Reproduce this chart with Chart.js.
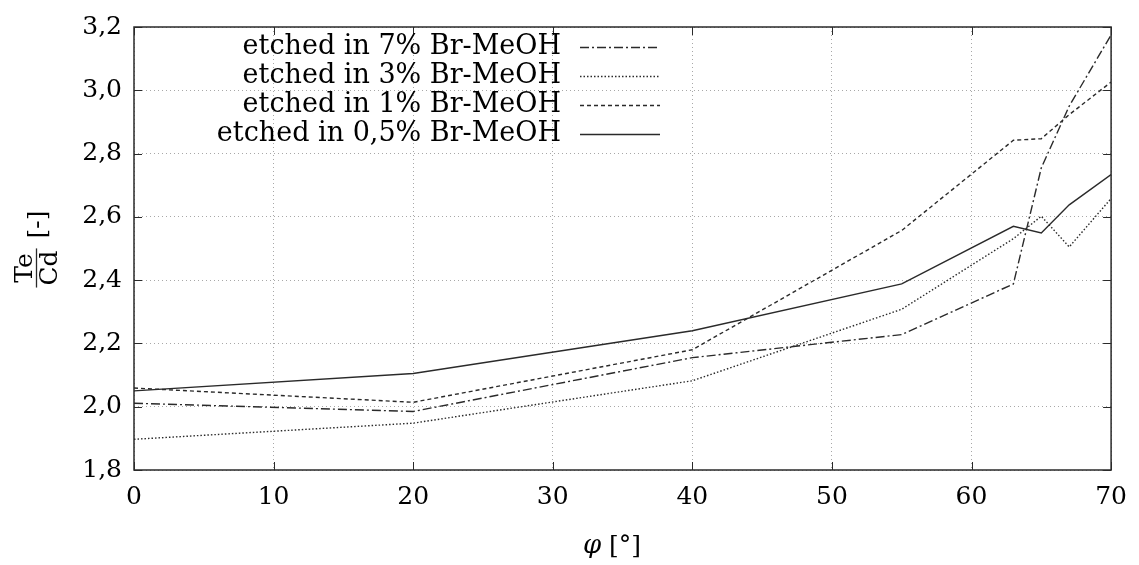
<!DOCTYPE html>
<html>
<head>
  <meta charset="utf-8">
  <title>Te/Cd ratio vs angle</title>
  <style>
    body { margin: 0; background: #ffffff; }
    #wrap { width: 1139px; height: 565px; }
  </style>
  <script src="https://cdn.jsdelivr.net/npm/chart.js@4/dist/chart.umd.min.js"></script>
</head>
<body>
  <div id="wrap"><canvas id="graph" width="1139" height="565"></canvas></div>
  <script>
    // angles (phi, degrees) and Te/Cd ratios
    const angles = [0, 20, 40, 55, 63, 65, 67, 70];
    const br7  = [2.011, 1.985, 2.155, 2.228, 2.388, 2.755, 2.95, 3.175];
    const br3  = [1.897, 1.948, 2.082, 2.308, 2.531, 2.602, 2.505, 2.658];
    const br1  = [2.059, 2.014, 2.180, 2.557, 2.842, 2.847, 2.923, 3.026];
    const br05 = [2.050, 2.105, 2.240, 2.388, 2.570, 2.549, 2.638, 2.734];
    const seriesNames = ['etched in 7% Br-MeOH', 'etched in 3% Br-MeOH', 'etched in 1% Br-MeOH', 'etched in 0,5% Br-MeOH'];
    const xTicks = [0, 10, 20, 30, 40, 50, 60, 70];
    const yTicks = [1.8, 2.0, 2.2, 2.4, 2.6, 2.8, 3.0, 3.2];

    const FONT = "'DejaVu Serif', 'Liberation Serif', serif";
    const FS = 25;
    const INK = '#2a2a2a';
    const dashes = [[9, 3, 2, 3], [1.5, 2], [4, 3], []];

    function pts(ys) {
      return angles.map(function (a, i) { return { x: a, y: ys[i] }; });
    }

    const allSeries = [br7, br3, br1, br05];
    const datasets = allSeries.map(function (ys, i) {
      return {
        label: seriesNames[i],
        data: pts(ys),
        borderColor: INK,
        borderWidth: 1.4,
        borderDash: dashes[i],
        pointRadius: 0,
        tension: 0,
        fill: false
      };
    });

    // frame, inward ticks, legend and axis titles (gnuplot look)
    const decor = {
      id: 'decor',
      afterDatasetsDraw(chart) {
        const ctx = chart.ctx;
        const a = chart.chartArea;
        const xs = chart.scales.x, ys = chart.scales.y;
        ctx.save();
        ctx.strokeStyle = INK;
        ctx.lineWidth = 1.5;
        ctx.setLineDash([]);
        ctx.strokeRect(a.left, a.top, a.right - a.left, a.bottom - a.top);
        ctx.lineWidth = 1;
        const tl = 8;
        ctx.beginPath();
        xTicks.forEach(function (v) {
          const px = Math.round(xs.getPixelForValue(v)) + 0.5;
          ctx.moveTo(px, a.bottom); ctx.lineTo(px, a.bottom - tl);
          ctx.moveTo(px, a.top); ctx.lineTo(px, a.top + tl);
        });
        yTicks.forEach(function (v) {
          const py = Math.round(ys.getPixelForValue(v)) + 0.5;
          ctx.moveTo(a.left, py); ctx.lineTo(a.left + tl, py);
          ctx.moveTo(a.right, py); ctx.lineTo(a.right - tl, py);
        });
        ctx.stroke();

        // legend: right aligned text, line sample on the right
        ctx.font = (FS + 2) + 'px ' + FONT;
        ctx.fillStyle = '#000';
        ctx.textAlign = 'right';
        ctx.textBaseline = 'middle';
        seriesNames.forEach(function (name, i) {
          const y = 47 + i * 29;
          ctx.fillText(name, 561, y);
          ctx.setLineDash(dashes[i]);
          ctx.lineWidth = 1.4;
          ctx.beginPath();
          ctx.moveTo(580, y + 0.5); ctx.lineTo(660, y + 0.5);
          ctx.stroke();
        });
        ctx.setLineDash([]);

        // x title: phi [deg]
        ctx.textAlign = 'left';
        ctx.textBaseline = 'alphabetic';
        ctx.font = 'italic ' + (FS + 1) + 'px ' + FONT;
        const phiW = ctx.measureText('φ').width;
        ctx.font = FS + 'px ' + FONT;
        const restW = ctx.measureText(' [°]').width;
        const x0 = 612 - (phiW + restW) / 2;
        ctx.font = 'italic ' + (FS + 1) + 'px ' + FONT;
        ctx.fillText('φ', x0, 553);
        ctx.font = FS + 'px ' + FONT;
        ctx.fillText(' [°]', x0 + phiW, 553);

        // y title: Te/Cd fraction then [-], rotated
        ctx.translate(35, 249);
        ctx.rotate(-Math.PI / 2);
        ctx.font = FS + 'px ' + FONT;
        const wNum = ctx.measureText('Te').width;
        const wDen = ctx.measureText('Cd').width;
        const wf = Math.max(wNum, wDen) + 4;
        const wb = ctx.measureText('[-]').width;
        const gap = 10;
        const total = wf + gap + wb;
        const u0 = -total / 2;
        ctx.textAlign = 'center';
        ctx.fillText('Te', u0 + wf / 2, -3);
        ctx.fillText('Cd', u0 + wf / 2, 22);
        ctx.lineWidth = 1.3;
        ctx.beginPath();
        ctx.moveTo(u0, 1.5); ctx.lineTo(u0 + wf, 1.5);
        ctx.stroke();
        ctx.textAlign = 'left';
        ctx.textBaseline = 'middle';
        ctx.fillText('[-]', u0 + wf + gap, 3);
        ctx.restore();
      }
    };

    const ctx = document.getElementById('graph').getContext('2d');
    window.myChart = new Chart(ctx, {
      type: 'line',
      data: { datasets: datasets },
      options: {
        responsive: false,
        animation: false,
        layout: { padding: { left: 0, right: 26, top: 23, bottom: 0 } },
        plugins: {
          legend: { display: false },
          tooltip: { enabled: false }
        },
        scales: {
          x: {
            type: 'linear',
            min: 0,
            max: 70,
            afterFit: function (s) { s.height = 95; },
            afterBuildTicks: function (s) { s.ticks = xTicks.map(function (v) { return { value: v }; }); },
            grid: { color: '#a8a8a8', lineWidth: 1, drawTicks: false },
            border: { display: false, dash: [1, 3] },
            ticks: {
              color: '#000',
              padding: 12,
              font: { family: FONT, size: FS },
              maxRotation: 0
            }
          },
          y: {
            min: 1.8,
            max: 3.2,
            afterFit: function (s) { s.width = 134; },
            afterBuildTicks: function (s) { s.ticks = yTicks.map(function (v) { return { value: v }; }); },
            grid: { color: '#a8a8a8', lineWidth: 1, drawTicks: false },
            border: { display: false, dash: [1, 3] },
            ticks: {
              color: '#000',
              padding: 12,
              font: { family: FONT, size: FS },
              callback: function (v) { return Number(v).toFixed(1).replace('.', ','); }
            }
          }
        }
      },
      plugins: [decor]
    });
  </script>
</body>
</html>
